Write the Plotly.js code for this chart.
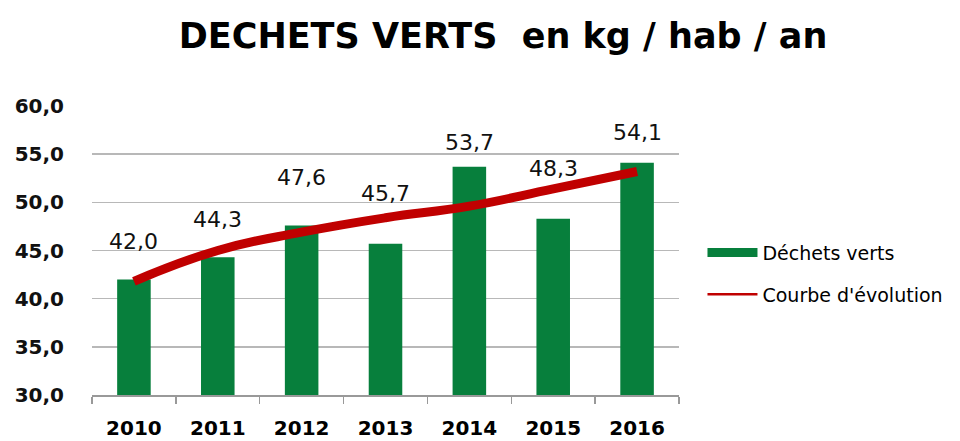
<!DOCTYPE html>
<html><head><meta charset="utf-8">
<script src="https://cdn.plot.ly/plotly-3.0.1.min.js"></script>
<style>html,body{margin:0;padding:0;background:#fff}#chart{width:960px;height:441px}</style>
</head><body><div id="chart"></div>
<script>
var years = ['2010','2011','2012','2013','2014','2015','2016'];
var dechetsVerts = [42.0, 44.3, 47.6, 45.7, 53.7, 48.3, 54.1];
var courbeEvolution = [41.8, 45.0, 46.9, 48.4, 49.6, 51.4, 53.2];
var labelTexts = ['42,0','44,3','47,6','45,7','53,7','48,3','54,1'];
var yTickVals = [30, 35, 40, 45, 50, 55, 60];
var yTickText = ['30,0','35,0','40,0','45,0','50,0','55,0','60,0'];

// layout-only: vertical pixel shift of each value label above its bar
var labelShift = [38, 38, 48, 50, 24, 50, 30];

var green = '#077f3c', red = '#c00000';

var traces = [
  {type:'bar', x:years, y:dechetsVerts, marker:{color:green}, showlegend:false, hoverinfo:'x+y'},
  {type:'scatter', mode:'lines', x:years, y:courbeEvolution, line:{color:red, width:9, shape:'spline', smoothing:1.3}, showlegend:false},
  {type:'scatter', mode:'lines', x:[years[0]], y:[null], name:'Déchets verts', legendgroup:'a', line:{color:green, width:9}},
  {type:'scatter', mode:'lines', x:[years[0]], y:[null], name:"Courbe d'évolution", legendgroup:'b', line:{color:red, width:2.5}}
];

var annotations = years.map(function(yr, i){
  return {x:i, y:dechetsVerts[i], xref:'x', yref:'y', text:labelTexts[i], showarrow:false,
          yshift:labelShift[i], font:{family:'DejaVu Sans', size:22, color:'#111'}};
});

var layout = {
  width:960, height:441,
  margin:{l:92, r:277, t:106, b:46},
  paper_bgcolor:'#fff', plot_bgcolor:'#fff',
  title:{text:'DECHETS VERTS  en kg / hab / an', x:0.524, xanchor:'center', y:0.92, yanchor:'middle',
         font:{family:'DejaVu Sans', size:35, color:'#000', weight:'bold'}},
  bargap:0.6,
  xaxis:{type:'category', categoryorder:'array', categoryarray:years, range:[-0.5, 6.5],
         showgrid:false, showline:true, linecolor:'#999', linewidth:1.5,
         ticks:'outside', tickson:'boundaries', ticklen:7, tickcolor:'#999', tickwidth:1.5,
         ticklabelstandoff:14,
         tickfont:{family:'DejaVu Sans', size:20, color:'#000', weight:'bold'}},
  yaxis:{range:[30,60], tickvals:yTickVals, ticktext:yTickText, showgrid:true, gridcolor:'#b8b8b8', gridwidth:1.5,
         zeroline:false, showline:false, ticks:'', ticklabelstandoff:27,
         tickfont:{family:'DejaVu Sans', size:20, color:'#111', weight:'bold'}},
  legend:{x:1.04, y:0.42, xanchor:'left', yanchor:'middle', itemwidth:50, tracegroupgap:14,
          font:{family:'DejaVu Sans', size:19, color:'#000'}, bgcolor:'rgba(0,0,0,0)'},
  annotations:annotations,
  showlegend:true
};

Plotly.newPlot('chart', traces, layout, {displayModeBar:false, staticPlot:true});
</script></body></html>
